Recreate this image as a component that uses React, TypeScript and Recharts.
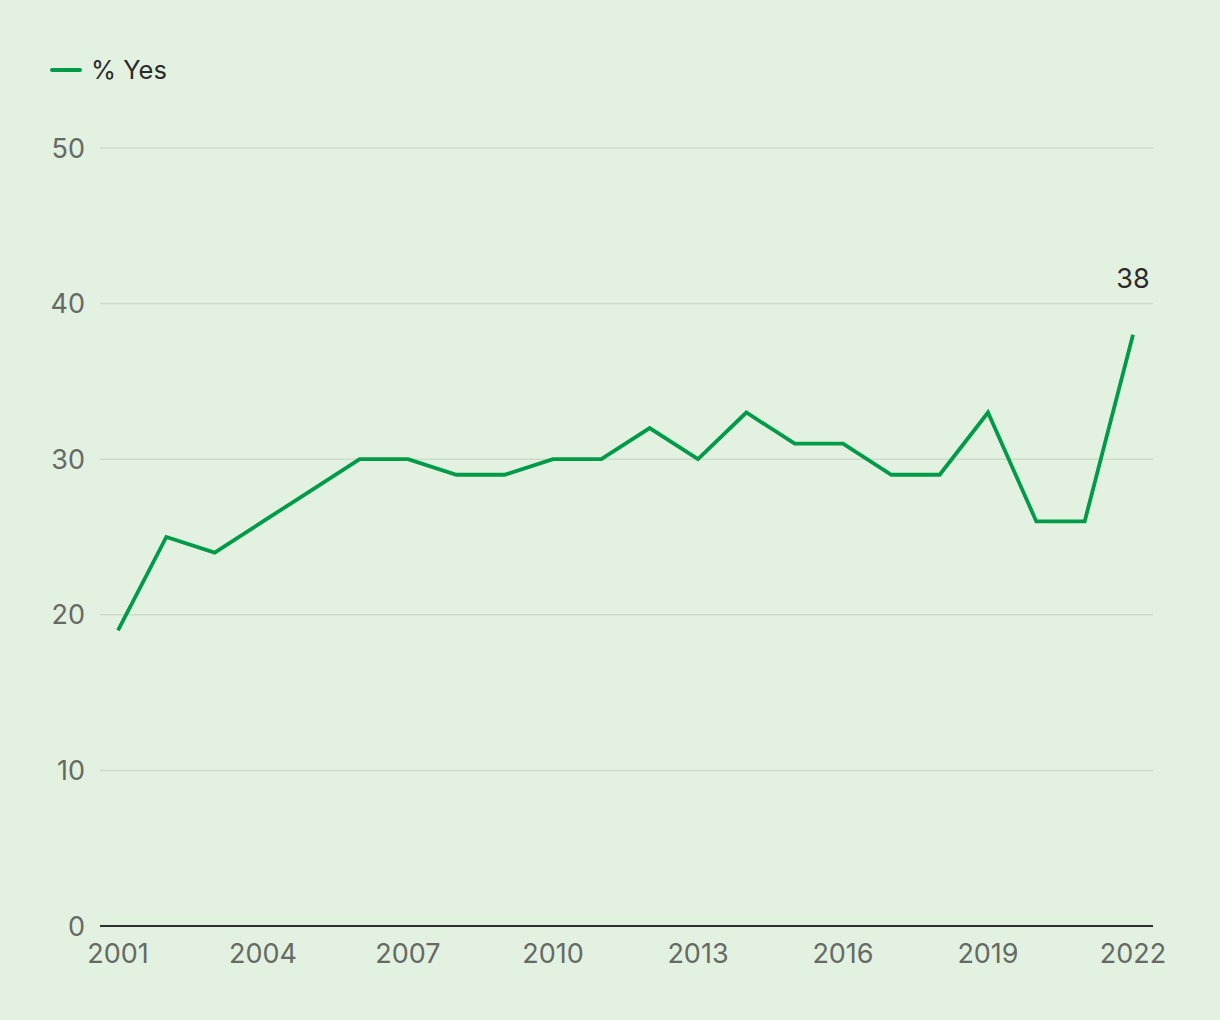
import { LineChart, Line, XAxis, YAxis, CartesianGrid, LabelList } from 'recharts'

const years = [
  2001, 2002, 2003, 2004, 2005, 2006, 2007, 2008, 2009, 2010, 2011,
  2012, 2013, 2014, 2015, 2016, 2017, 2018, 2019, 2020, 2021, 2022,
]
const yesPct = [
  19, 25, 24, 26, 28, 30, 30, 29, 29, 30, 30,
  32, 30, 33, 31, 31, 29, 29, 33, 26, 26, 38,
]
const xTicks = [2001, 2004, 2007, 2010, 2013, 2016, 2019, 2022]
const yTicks = [0, 10, 20, 30, 40, 50]

const BG    = '#e3f1e0'
const GREEN = '#009b48'
const FONT  = 'Inter, "Noto Sans", sans-serif'
const TICK  = { fontSize: 27, fill: '#666a66', fontFamily: FONT }

const data = years.map((y, i) => ({ year: y, yes: yesPct[i] }))

function LastLabel(props: any) {
  const { x, y, value, index } = props
  if (index !== data.length - 1) return null
  return (
    <text x={x} y={y - 47} textAnchor="middle" fontSize={27} fontFamily={FONT} fill="#2b2b2b">
      {value}
    </text>
  )
}

export default function App() {
  return (
    <div style={{ position: 'absolute', left: 0, top: 0, width: 1220, height: 1020, background: BG }}>
      {/* legend drawn as plain html so it doesn't push the plot down */}
      <div style={{
        position: 'absolute', left: 50, top: 57, height: 26, display: 'flex', alignItems: 'center',
        fontFamily: FONT, fontSize: 25.5, lineHeight: '26px', color: '#2b2b2b',
      }}>
        <span style={{ display: 'inline-block', width: 32, height: 4, borderRadius: 2, background: GREEN, marginRight: 9 }} />
        % Yes
      </div>
      <LineChart width={1220} height={1020} data={data} margin={{ top: 148, right: 67, left: 0, bottom: 54 }}>
        <CartesianGrid vertical={false} stroke="#cddccb" strokeWidth={1.5} />
        <XAxis
          dataKey="year" type="number" domain={[2001, 2022]} ticks={xTicks}
          padding={{ left: 18, right: 20 }} tick={TICK} tickLine={false}
          axisLine={{ stroke: '#2e2e2e', strokeWidth: 2 }} tickMargin={12} height={40}
        />
        <YAxis
          domain={[0, 50]} ticks={yTicks} tick={TICK} tickLine={false}
          axisLine={false} width={100} tickMargin={9}
        />
        <Line
          dataKey="yes" stroke={GREEN} strokeWidth={3.8} dot={false}
          isAnimationActive={false} strokeLinejoin="miter"
        >
          <LabelList dataKey="yes" content={<LastLabel />} />
        </Line>
      </LineChart>
    </div>
  )
}
